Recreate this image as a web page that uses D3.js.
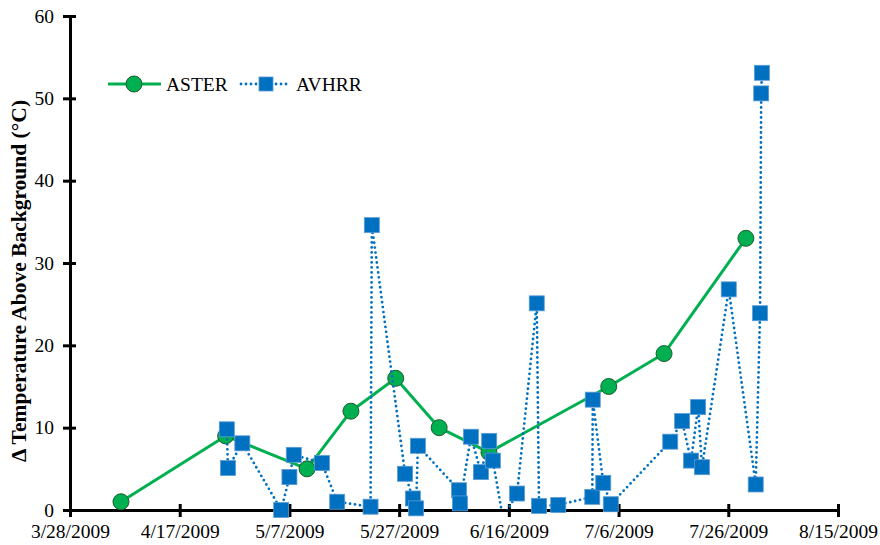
<!DOCTYPE html>
<html>
<head>
<meta charset="utf-8">
<script src="https://cdn.jsdelivr.net/npm/d3@7"></script>
<style>
  html, body { margin: 0; padding: 0; background: #fff; }
  svg { display: block; }
  text { font-family: "Liberation Serif", "Times New Roman", serif; fill: #000; }
</style>
</head>
<body>
<svg id="chart" width="880" height="545"></svg>
<script>
// ASTER overpasses: acquisition time and temperature above background (°C)
const asterDates = [
  "2009-04-06 07:00", "2009-04-25 09:00", "2009-05-10 05:00", "2009-05-18 05:00",
  "2009-05-26 09:00", "2009-06-03 07:00", "2009-06-12 09:00", "2009-07-04 05:00",
  "2009-07-14 07:00", "2009-07-29 05:00"
];
const asterValues = [1, 9, 5, 12, 16, 10, 7, 15, 19, 33];

// AVHRR passes: acquisition time and temperature above background (°C)
const avhrrDates = [
  "2009-04-25 14:00", "2009-04-25 19:00", "2009-04-28 10:00", "2009-05-05 12:00",
  "2009-05-07 00:00", "2009-05-07 19:00", "2009-05-12 22:00", "2009-05-15 17:00",
  "2009-05-21 19:00", "2009-05-22 00:30", "2009-05-28 02:00", "2009-05-29 12:00",
  "2009-05-30 02:00", "2009-05-30 10:00", "2009-06-06 22:00", "2009-06-07 02:00",
  "2009-06-09 02:00", "2009-06-10 22:00", "2009-06-12 10:00", "2009-06-13 02:00",
  "2009-06-14 22:00", "2009-06-17 12:00", "2009-06-21 02:00", "2009-06-21 12:00",
  "2009-06-25 00:00", "2009-07-01 05:00", "2009-07-01 07:00", "2009-07-03 05:00",
  "2009-07-04 14:00", "2009-07-15 10:00", "2009-07-17 14:00", "2009-07-19 05:00",
  "2009-07-20 12:00", "2009-07-21 05:00", "2009-07-26 02:00", "2009-07-31 00:00",
  "2009-07-31 19:00", "2009-08-01 00:00", "2009-08-01 03:00"
];
const avhrrValues = [
  9.8, 5.1, 8.1, 0.0, 4.0, 6.7, 5.7, 1.0,
  0.4, 34.6, 4.4, 1.4, 0.2, 7.8, 2.4, 0.8,
  8.9, 4.6, 8.4, 6.0, -1.0, 2.0, 25.1, 0.5,
  0.6, 1.6, 13.4, 3.3, 0.7, 8.3, 10.8, 6.0,
  12.5, 5.2, 26.8, 3.1, 23.9, 50.6, 53.1
];

// Axis ticks
const xTickLabels = ["3/28/2009", "4/17/2009", "5/7/2009", "5/27/2009",
                     "6/16/2009", "7/6/2009", "7/26/2009", "8/15/2009"];
const yTickValues = [0, 10, 20, 30, 40, 50, 60];

const seriesNames = ["ASTER", "AVHRR"];

const parseTime = d3.utcParse("%Y-%m-%d %H:%M");
const parseTick = d3.utcParse("%m/%d/%Y");

const aster = asterDates.map((d, i) => ({ t: parseTime(d), v: asterValues[i] }));
const avhrr = avhrrDates.map((d, i) => ({ t: parseTime(d), v: avhrrValues[i] }));
const xTicks = xTickLabels.map(parseTick);

const svg = d3.select("#chart");
const plotLeft = 70, plotRight = 838, plotTop = 16, plotBottom = 510;

const x = d3.scaleUtc()
  .domain([xTicks[0], xTicks[xTicks.length - 1]])
  .range([plotLeft, plotRight]);
const y = d3.scaleLinear().domain([0, 60]).range([plotBottom, plotTop]);

const green = "#00B050";
const blue = "#0070C0";

svg.append("defs").append("clipPath").attr("id", "plot-clip")
  .append("rect")
  .attr("x", plotLeft).attr("y", 0)
  .attr("width", plotRight - plotLeft + 20).attr("height", plotBottom);

// Y axis
const yAxis = svg.append("g")
  .attr("transform", `translate(${plotLeft},0)`)
  .call(d3.axisLeft(y).tickValues(yTickValues).tickSizeInner(7).tickSizeOuter(0).tickPadding(9));
yAxis.select(".domain").attr("stroke", "#000").attr("stroke-width", 3);
yAxis.selectAll(".tick line").attr("x1", 6).attr("stroke", "#000").attr("stroke-width", 3);
yAxis.selectAll(".tick text")
  .style("font-family", "'Liberation Serif', serif").style("font-size", "19.5px").attr("fill", "#000");

// X axis
const xAxis = svg.append("g")
  .attr("transform", `translate(0,${plotBottom})`)
  .call(d3.axisBottom(x).tickValues(xTicks).tickFormat((d, i) => xTickLabels[i])
    .tickSizeInner(7).tickSizeOuter(0).tickPadding(7));
xAxis.select(".domain").attr("stroke", "#000").attr("stroke-width", 3);
xAxis.selectAll(".tick line").attr("y1", -6).attr("stroke", "#000").attr("stroke-width", 3);
xAxis.selectAll(".tick text")
  .style("font-family", "'Liberation Serif', serif").style("font-size", "19.5px").attr("fill", "#000");

// Y axis title
svg.append("text")
  .attr("transform", `translate(26,${(plotTop + plotBottom) / 2 + 18}) rotate(-90)`)
  .attr("text-anchor", "middle")
  .style("font-size", "21.5px").style("font-weight", "bold")
  .text("\u0394 Temperature Above Background (\u00B0C)");

const line = d3.line().x(d => x(d.t)).y(d => y(d.v));

// ASTER series
svg.append("path").datum(aster)
  .attr("d", line).attr("fill", "none")
  .attr("stroke", green).attr("stroke-width", 3).attr("stroke-linejoin", "round");
svg.append("g").selectAll("circle").data(aster).join("circle")
  .attr("cx", d => x(d.t)).attr("cy", d => y(d.v)).attr("r", 8)
  .attr("fill", green).attr("stroke", "#1E5B2E").attr("stroke-width", 1);

// AVHRR series
svg.append("path").datum(avhrr)
  .attr("d", line).attr("fill", "none")
  .attr("clip-path", "url(#plot-clip)")
  .attr("stroke", blue).attr("stroke-width", 2.8)
  .attr("stroke-linecap", "round").attr("stroke-dasharray", "0 5");
const sq = 15;
svg.append("g").selectAll("rect").data(avhrr.filter(d => d.v >= 0)).join("rect")
  .attr("x", d => x(d.t) - sq / 2).attr("y", d => y(d.v) - sq / 2)
  .attr("width", sq).attr("height", sq)
  .attr("fill", blue).attr("stroke", "#5B9BD5").attr("stroke-width", 0.8);

// Legend
const legY = 84;
const lg = svg.append("g");
lg.append("line").attr("x1", 108).attr("x2", 161).attr("y1", legY).attr("y2", legY)
  .attr("stroke", green).attr("stroke-width", 3);
lg.append("circle").attr("cx", 134).attr("cy", legY).attr("r", 8)
  .attr("fill", green).attr("stroke", "#1E5B2E").attr("stroke-width", 1);
lg.append("text").attr("x", 166).attr("y", legY + 7).style("font-size", "19.5px").text(seriesNames[0]);
lg.append("line").attr("x1", 241).attr("x2", 291).attr("y1", legY).attr("y2", legY)
  .attr("stroke", blue).attr("stroke-width", 2.8)
  .attr("stroke-linecap", "round").attr("stroke-dasharray", "0 5");
lg.append("rect").attr("x", 266 - 7).attr("y", legY - 7).attr("width", 14).attr("height", 14)
  .attr("fill", blue).attr("stroke", "#5B9BD5").attr("stroke-width", 0.8);
lg.append("text").attr("x", 296).attr("y", legY + 7).style("font-size", "19.5px").text(seriesNames[1]);
</script>
</body>
</html>
